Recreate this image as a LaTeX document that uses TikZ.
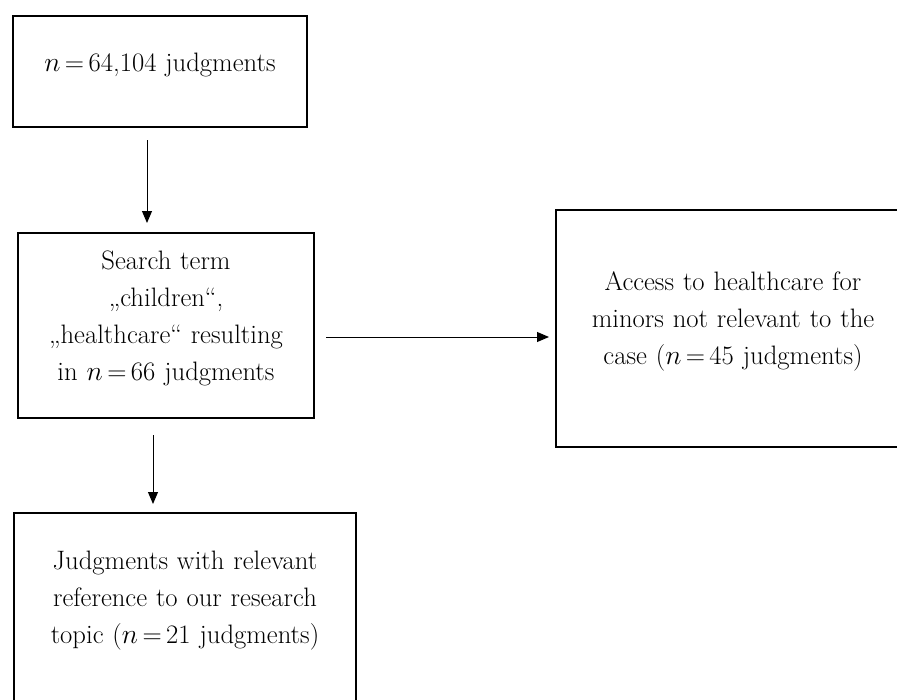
\documentclass[tikz,border=0pt]{standalone}
\usetikzlibrary{arrows.meta,calc}
\tikzset{
  stage/.style={draw, line width=1.5pt, align=center, inner sep=0pt,
    font=\fontsize{20}{27.75}\selectfont,
    execute at end node={\par\vspace{10.5pt}}},
  arr/.style={-{Triangle[length=9pt,width=7.5pt]}, line width=0.75pt},
}
\begin{document}
\begin{tikzpicture}[x=0.75pt,y=-0.75pt]
        \useasboundingbox (0,0) rectangle (897,700);
        \clip (0,0) rectangle (897,700);
        \node[stage, text width=215pt, minimum width=220.5pt, minimum height=83.25pt] (total) at (160,71.5) {$n$\,=\,64,104 judgments};
        \node[stage, text width=216pt, minimum width=222pt, minimum height=138.75pt] (search) at (166,325.5) {Search term\\ „children“,\\ „healthcare“ resulting\\ in $n$\,=\,66 judgments};
        \node[stage, text width=260pt, minimum width=265.5pt, minimum height=177.75pt] (access) at (733,328.5) {Access to healthcare for\\ minors not relevant to the\\ case ($n$\,=\,45 judgments)};
        \node[stage, text width=250pt, minimum width=256.5pt, minimum height=141.75pt] (relevant) at (185,607.5) {Judgments with relevant\\ reference to our research\\ topic ($n$\,=\,21 judgments)};
        \draw[arr] ($(total.south)+(-13,12)$) -- ($(search.north)+(-19,-9)$);
        \draw[arr] ($(search.east)+(11,11.5)$) -- ($(access.west)+(-6,8.5)$);
        \draw[arr] ($(search.south)+(-13,16)$) -- ($(relevant.north)+(-32,-8)$);
    \end{tikzpicture}
\end{document}
